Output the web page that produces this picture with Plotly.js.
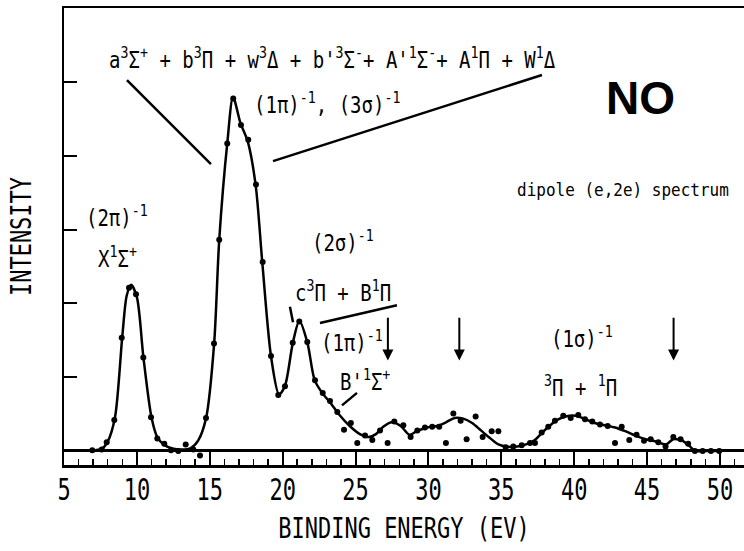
<!DOCTYPE html>
<html>
<head>
<meta charset="utf-8">
<script src="https://cdn.plot.ly/plotly-3.0.1.min.js"></script>
<style>html,body{margin:0;padding:0;background:#fff;overflow:hidden}#chart{width:744px;height:551px}</style>
</head>
<body>
<div id="chart"></div>
<script>
// Measured points (binding energy in eV, intensity in arbitrary units)
const pointEnergy = [6.94,7.59,7.93,8.45,8.96,9.46,9.94,10.44,10.97,11.40,11.88,12.34,12.84,13.35,13.87,14.33,14.74,15.29,15.65,16.20,16.61,17.14,17.64,18.17,18.63,19.20,19.70,20.16,20.69,21.14,21.69,22.22,22.75,23.25,23.75,24.21,24.68,25.12,25.65,26.15,26.68,27.20,27.66,28.28,28.78,29.24,29.76,30.26,30.74,31.20,31.71,32.21,32.62,33.24,33.72,34.34,34.80,35.30,35.82,36.40,36.97,37.31,37.77,38.22,38.68,39.25,39.76,40.28,40.74,41.24,41.77,42.30,42.80,43.26,43.78,44.28,44.79,45.25,45.77,46.27,46.80,47.30,47.82,48.28,48.81,49.38,49.95];
const pointIntensity = [0.00,0.01,0.11,0.41,1.53,2.21,2.12,1.26,0.45,0.16,0.09,0.00,-0.01,0.08,0.01,-0.07,0.44,1.45,2.86,4.17,4.78,4.42,4.22,3.61,2.56,1.28,0.75,0.87,1.46,1.75,1.47,0.95,0.78,0.67,0.52,0.28,0.37,0.10,0.20,0.14,0.27,0.10,0.39,0.34,0.18,0.27,0.31,0.32,0.32,0.10,0.50,0.40,0.15,0.46,0.18,0.26,0.26,0.04,0.05,0.07,0.10,0.10,0.24,0.32,0.40,0.47,0.44,0.48,0.42,0.39,0.35,0.33,0.10,0.32,0.14,0.21,0.13,0.15,0.11,0.05,0.18,0.15,0.09,-0.01,-0.01,-0.01,-0.01];

// Smooth curve drawn through the spectrum
const curveEnergy = [6.9,7.6,8.0,8.5,9.0,9.3,9.6,10.0,10.45,11.0,11.4,11.9,12.5,13.1,13.7,14.2,14.75,15.3,15.65,16.2,16.6,17.1,17.6,18.15,18.6,19.2,19.75,20.15,20.7,21.15,21.7,22.2,22.75,23.3,23.9,24.6,25.3,25.9,26.4,26.9,27.5,28.1,28.7,29.2,29.9,30.6,31.2,31.8,32.4,33.0,33.6,34.2,34.8,35.4,36.1,36.7,37.3,37.8,38.3,38.8,39.4,40.1,40.8,41.4,42.1,42.8,43.5,44.2,44.9,45.6,46.3,46.8,47.4,47.9,48.3,49.0,49.95];
const curveIntensity = [0.0,0.02,0.12,0.45,1.55,2.1,2.25,2.08,1.26,0.45,0.18,0.07,0.02,0.01,0.03,0.13,0.44,1.45,2.86,4.17,4.8,4.45,4.2,3.6,2.56,1.28,0.76,0.87,1.46,1.76,1.46,0.95,0.77,0.64,0.48,0.33,0.22,0.18,0.22,0.32,0.38,0.33,0.21,0.26,0.31,0.33,0.38,0.44,0.43,0.37,0.27,0.17,0.08,0.05,0.05,0.08,0.14,0.24,0.33,0.41,0.46,0.47,0.42,0.37,0.34,0.31,0.26,0.2,0.15,0.12,0.08,0.15,0.13,0.06,-0.01,-0.01,-0.01];

// Threshold arrows (eV)
const arrowEnergies = [27.22, 32.12, 46.82];

// Axis ticks
const xTickValues = [5,10,15,20,25,30,35,40,45,50];
const xTickLabels = ["5","10","15","20","25","30","35","40","45","50"];
const yTickValues = [1,2,3,4,5];

const MONO = "DejaVu Sans Mono";
const ink = "#000";

const traces = [
  {x: curveEnergy, y: curveIntensity, mode: "lines", type: "scatter",
   line: {color: ink, width: 2.5, shape: "spline", smoothing: 0.8}, hoverinfo: "skip"},
  {x: pointEnergy, y: pointIntensity, mode: "markers", type: "scatter",
   marker: {color: ink, size: 6}}
];

function lbl(x, y, text, size, extra) {
  return Object.assign({x: x, y: y, xref: "x", yref: "y", text: text, showarrow: false,
    font: {family: MONO, size: size, color: ink}, xanchor: "center", yanchor: "middle"}, extra || {});
}

const annotations = [
  lbl(23.45, 5.33, "a<sup>3</sup>Σ<sup>+</sup> + b<sup>3</sup>Π + w<sup>3</sup>Δ + b'<sup>3</sup>Σ<sup>-</sup>+ A'<sup>1</sup>Σ<sup>-</sup>+ A<sup>1</sup>Π + W<sup>1</sup>Δ", 19),
  lbl(23.05, 4.72, "(1π)<sup>-1</sup>, (3σ)<sup>-1</sup>", 19),
  lbl(42.05, 4.79, "<b>NO</b>", 46, {font: {family: "Liberation Sans", size: 46, color: ink}, xanchor: "left"}),
  lbl(43.35, 3.54, "dipole (e,2e) spectrum", 16),
  lbl(8.64, 3.19, "(2π)<sup>-1</sup>", 19),
  lbl(8.70, 2.63, "X<sup>1</sup>Σ<sup>+</sup>", 19),
  lbl(24.14, 2.84, "(2σ)<sup>-1</sup>", 19),
  lbl(24.14, 2.17, "c<sup>3</sup>Π + B<sup>1</sup>Π", 19),
  lbl(24.76, 1.49, "(1π)<sup>-1</sup>", 19),
  lbl(25.65, 0.95, "B'<sup>1</sup>Σ<sup>+</sup>", 19),
  lbl(40.53, 1.54, "(1σ)<sup>-1</sup>", 19),
  lbl(40.46, 0.88, "<sup>3</sup>Π + <sup>1</sup>Π", 19)
];
arrowEnergies.forEach(function (e) {
  annotations.push({x: e, y: 1.22, xref: "x", yref: "y", ax: e, ay: 1.82, axref: "x", ayref: "y",
    text: "", showarrow: true, arrowhead: 2, arrowsize: 1.1, arrowwidth: 2, arrowcolor: ink});
});

function seg(x0, y0, x1, y1) {
  return {type: "line", xref: "x", yref: "y", x0: x0, y0: y0, x1: x1, y1: y1,
    line: {color: ink, width: 2.5}};
}
const shapes = [
  seg(9.32, 5.03, 15.08, 3.89),
  seg(19.34, 3.93, 37.79, 5.10),
  seg(20.50, 1.95, 20.71, 1.74),
  seg(22.56, 1.73, 27.84, 1.97),
  seg(24.07, 0.61, 25.10, 0.78)
];

const layout = {
  width: 744, height: 551,
  margin: {l: 64, r: 0, t: 8, b: 86},
  paper_bgcolor: "#fff", plot_bgcolor: "#fff",
  showlegend: false,
  font: {family: MONO, color: ink},
  xaxis: {
    range: [5, 51.65], showgrid: false, zeroline: false,
    showline: true, linecolor: ink, linewidth: 2.5, mirror: true,
    tickmode: "array", tickvals: xTickValues, ticktext: xTickLabels,
    ticks: "inside", ticklen: 15, tickwidth: 2, tickcolor: ink,
    minor: {dtick: 1, tick0: 5, ticks: "inside", ticklen: 6, tickwidth: 1.5, tickcolor: ink, showgrid: false},
    tickfont: {family: MONO, size: 22, color: ink},
    ticklabelstandoff: 3,
    title: {text: "BINDING ENERGY (EV)\u00a0\u00a0", font: {family: MONO, size: 22, color: ink}, standoff: 20}
  },
  yaxis: {
    range: [-0.2, 6.01], showgrid: false,
    zeroline: true, zerolinecolor: ink, zerolinewidth: 2.5,
    showline: true, linecolor: ink, linewidth: 2.5, mirror: false,
    tickmode: "array", tickvals: yTickValues,
    ticks: "inside", ticklen: 13, tickwidth: 2, tickcolor: ink,
    showticklabels: false,
    title: {text: "INTENSITY", font: {family: MONO, size: 22, color: ink}, standoff: 26}
  },
  annotations: annotations,
  shapes: shapes
};

// Stretch text vertically to imitate the tall, narrow typewriter lettering of the original
function stretch(el, s) {
  const bb = el.getBBox();
  if (!bb.width) return;
  const cx = bb.x + bb.width / 2, cy = bb.y + bb.height / 2;
  const t = el.getAttribute("transform") || "";
  el.setAttribute("transform", t + " translate(" + cx + "," + cy + ") scale(1," + s + ") translate(" + (-cx) + "," + (-cy) + ")");
}

Plotly.newPlot("chart", traces, layout, {displayModeBar: false, staticPlot: true}).then(function (gd) {
  gd.querySelectorAll(".xaxislayer-above text").forEach(function (el) { stretch(el, 1.4); });
  gd.querySelectorAll("text.xtitle, text.ytitle").forEach(function (el) { stretch(el, 1.3); });
  gd.querySelectorAll("text.annotation-text").forEach(function (el) {
    const txt = el.textContent;
    if (txt === "NO" || txt === "") return;
    stretch(el, txt.indexOf("dipole") === 0 ? 1.15 : 1.25);
  });
});
</script>
</body>
</html>
